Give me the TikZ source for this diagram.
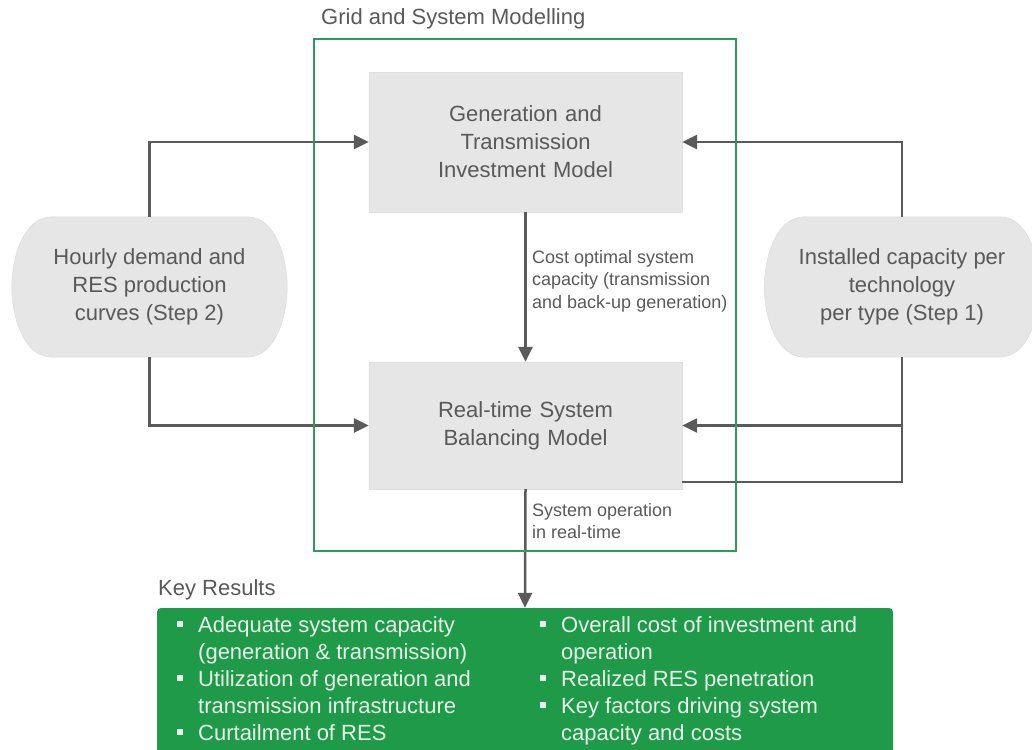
\documentclass[tikz,border=0pt]{standalone}
\usepackage{fontspec}
\setmainfont{Liberation Sans}
\usetikzlibrary{arrows.meta,backgrounds}

\definecolor{boxgray}{HTML}{E6E6E6}
\definecolor{txtgray}{HTML}{595959}
\definecolor{linegray}{HTML}{5A5A5A}
\definecolor{framegreen}{HTML}{2E9A5C}
\definecolor{resgreen}{HTML}{1F9A48}
\definecolor{restext}{HTML}{E6F3E8}

\tikzstyle{model}   = [fill=boxgray, draw=black!12, minimum width=313pt, text width=290pt, align=center, font=\fontsize{22}{28}\selectfont, text=txtgray]
\tikzstyle{source}  = [minimum width=275pt, minimum height=140pt, align=center, font=\fontsize{22}{28}\selectfont, text=txtgray]
\tikzstyle{flow}    = [draw=linegray, line width=2.5pt, -{Triangle[length=15pt,width=14pt]}]
\tikzstyle{link}    = [draw=linegray, line width=2.5pt]
\tikzstyle{note}    = [anchor=north west, align=left, inner sep=0pt, font=\fontsize{18}{22.5}\selectfont, text=txtgray]
\tikzstyle{heading} = [anchor=west, inner sep=0pt, font=\fontsize{22}{26}\selectfont, text=txtgray]
\tikzstyle{keybox}  = [fill=resgreen, rounded corners=4pt, minimum width=736pt, minimum height=152pt]
\tikzstyle{keytext} = [anchor=north west, align=left, inner sep=0pt, font=\fontsize{22}{27}\selectfont, text=restext]
\def\bul{\makebox[21pt][l]{\rule[5pt]{6pt}{6pt}}}
\def\ind{\hspace*{21pt}}
\def\pill#1{
  \fill[boxgray, draw=black!15] ([xshift=40pt]#1.north west) -- ([xshift=-40pt]#1.north east)
    .. controls ([xshift=-12pt]#1.north east) and ([yshift=30pt]#1.east) .. (#1.east)
    .. controls ([yshift=-30pt]#1.east) and ([xshift=-12pt]#1.south east) .. ([xshift=-40pt]#1.south east)
    -- ([xshift=40pt]#1.south west)
    .. controls ([xshift=12pt]#1.south west) and ([yshift=-30pt]#1.west) .. (#1.west)
    .. controls ([yshift=30pt]#1.west) and ([xshift=12pt]#1.north west) .. cycle;
}

\begin{document}
\begin{tikzpicture}[x=1pt, y=-1pt]
  \useasboundingbox (0,0) rectangle (1032,749);
  \node[model, minimum height=140pt] (gen) at (525.5,142) {Generation and\\Transmission\\Investment Model};
  \node[model, minimum height=127pt] (bal) at (525.5,425.5) {Real-time System\\Balancing Model};
  \node[source] (hour) at (149.5,287) {Hourly demand and\\RES production\\curves (Step 2)};
  \node[source] (inst) at (902,287) {Installed capacity per\\technology\\per type (Step 1)};
  \begin{pgfonlayer}{background}
    \pill{hour}
    \pill{inst}
  \end{pgfonlayer}
  \node[heading] (grid) at (321,19) {Grid and System Modelling};
  \node[keybox] (res) at (525,684) {};
  \node[heading] (reslabel) at (158,590) {Key Results};
  % inputs
  \draw[flow] (hour.north) |- (gen.west);
  \draw[flow] (hour.south) |- (bal.west);
  \draw[flow] (inst.north) |- (gen.east);
  \draw[flow] (inst.south) |- (bal.east);
  \draw[link] (inst.south) |- ([yshift=7pt]bal.south east);
  % model chain
  \draw[flow] (gen.south) -- (bal.north);
  \draw[flow] (bal.south) -- (res.north);
  \node[note] (costlbl) at (532,250) {Cost optimal system\\capacity (transmission\\and back-up generation)};
  \node[note] (oplbl) at (532,503) {System operation\\in real-time};
  \draw[framegreen, line width=2.5pt] (314,39) rectangle (736,551);
  % key results
  \node[keytext] (resleft) at (177,616) {\bul Adequate system capacity\\\ind(generation \& transmission)\\\bul Utilization of generation and\\\ind transmission infrastructure\\\bul Curtailment of RES};
  \node[keytext] (resright) at (540,616) {\bul Overall cost of investment and\\\ind operation\\\bul Realized RES penetration\\\bul Key factors driving system\\\ind capacity and costs};
\end{tikzpicture}
\end{document}
